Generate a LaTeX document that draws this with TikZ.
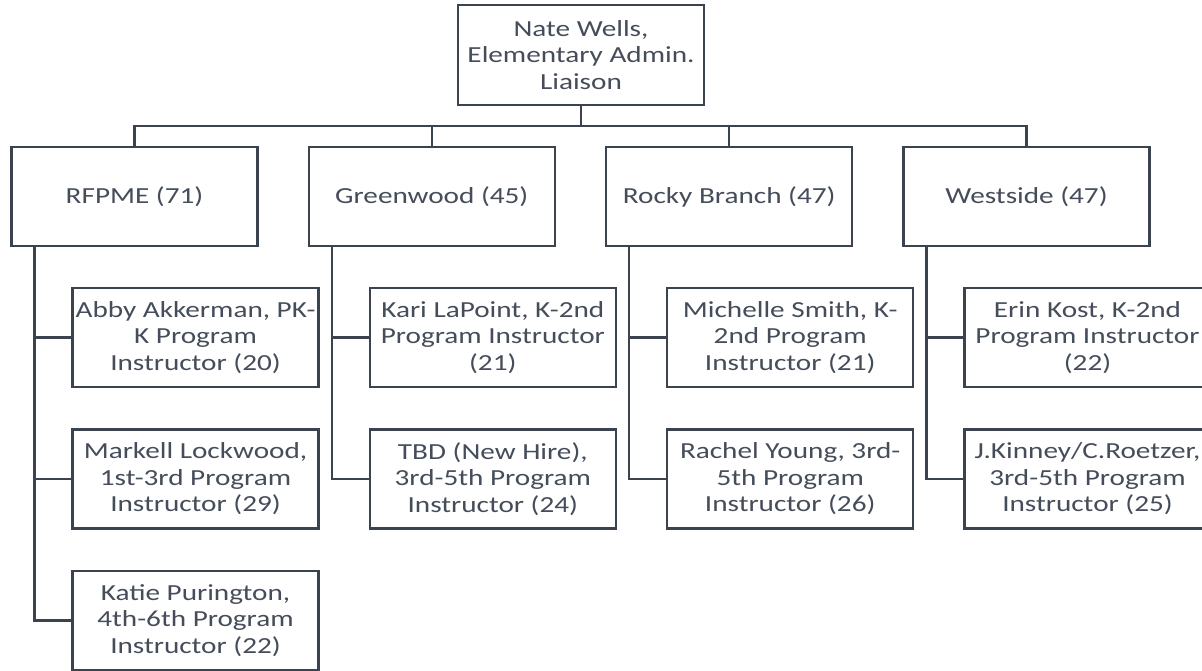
\documentclass[tikz,border=0pt]{standalone}
\usepackage{fontspec}
\setmainfont{Carlito}[FakeStretch=1.27]
\definecolor{linec}{HTML}{3B434F}
\definecolor{textc}{HTML}{454D5A}
\begin{document}
\begin{tikzpicture}[x=1pt,y=-1pt,
  orgbox/.style={draw=linec, line width=2.4pt, fill=white, minimum width=246pt,
    minimum height=99pt, inner sep=0pt, align=center, text=textc,
    font=\fontsize{23}{26.5}\selectfont},
  conn/.style={draw=linec, line width=2.4pt, line join=miter}]
\fill[white] (0,0) rectangle (1202,670);
\useasboundingbox (0,0) rectangle (1202,670);
\clip (0,0) rectangle (1202,670);
% top
\node[orgbox, minimum height=100pt] (top) at (581,55) {Nate Wells,\\Elementary Admin.\\Liaison};
% level 1
\node[orgbox] (r1) at (134.5,196.5) {RFPME (71)};
\node[orgbox] (r2) at (431.8,196.5) {Greenwood (45)};
\node[orgbox] (r3) at (729.2,196.5) {Rocky Branch (47)};
\node[orgbox] (r4) at (1026.5,196.5) {Westside (47)};
% children
\node[orgbox] (r1a) at (195.5,337.5) {Abby Akkerman, PK-\\K Program\\Instructor (20)};
\node[orgbox] (r1b) at (195.5,479) {Markell Lockwood,\\1st-3rd Program\\Instructor (29)};
\node[orgbox] (r1c) at (195.5,620.5) {Katie Purington,\\4th-6th Program\\Instructor (22)};
\node[orgbox] (r2a) at (492.8,337.5) {Kari LaPoint, K-2nd\\Program Instructor\\(21)};
\node[orgbox] (r2b) at (492.8,479) {TBD (New Hire),\\3rd-5th Program\\Instructor (24)};
\node[orgbox] (r3a) at (790.2,337.5) {Michelle Smith, K-\\2nd Program\\Instructor (21)};
\node[orgbox] (r3b) at (790.2,479) {Rachel Young, 3rd-\\5th Program\\Instructor (26)};
\node[orgbox] (r4a) at (1087.5,337.5) {Erin Kost, K-2nd\\Program Instructor\\(22)};
\node[orgbox] (r4b) at (1087.5,479) {J.Kinney/C.Roetzer,\\3rd-5th Program\\Instructor (25)};
% bus
\coordinate (bus) at (581,126);
\draw[conn] (top.south) -- (bus);
\draw[conn] (r1.north) |- (bus) -| (r4.north);
\draw[conn] (r2.north) -- (r2.north |- bus);
\draw[conn] (r3.north) -- (r3.north |- bus);
% spines
\coordinate (s1) at ([xshift=-100pt]r1.south);
\coordinate (s2) at ([xshift=-100pt]r2.south);
\coordinate (s3) at ([xshift=-100pt]r3.south);
\coordinate (s4) at ([xshift=-100pt]r4.south);
\draw[conn] (s1) |- (r1c.west);
\draw[conn] (r1a.west) -- (r1a.west -| s1);
\draw[conn] (r1b.west) -- (r1b.west -| s1);
\draw[conn] (s2) |- (r2b.west);
\draw[conn] (r2a.west) -- (r2a.west -| s2);
\draw[conn] (s3) |- (r3b.west);
\draw[conn] (r3a.west) -- (r3a.west -| s3);
\draw[conn] (s4) |- (r4b.west);
\draw[conn] (r4a.west) -- (r4a.west -| s4);
\end{tikzpicture}
\end{document}
